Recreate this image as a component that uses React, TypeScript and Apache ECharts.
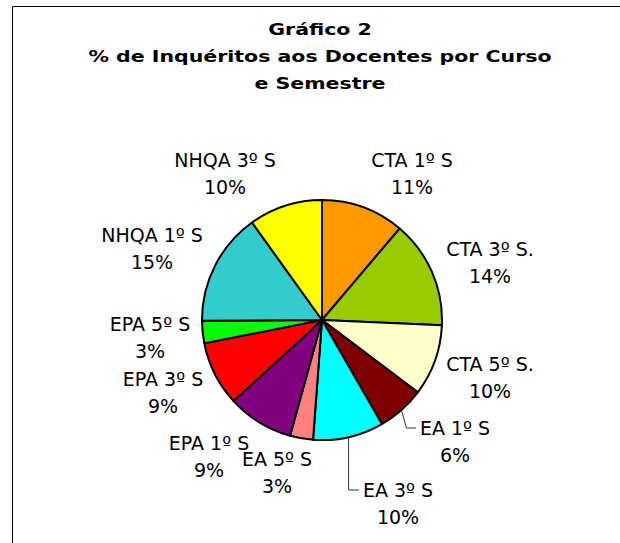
import React, { useEffect, useRef } from "react";
import * as echarts from "echarts";

const categories = [
  "CTA 1º S",
  "CTA 3º S.",
  "CTA 5º S.",
  "EA 1º S",
  "EA 3º S",
  "EA 5º S",
  "EPA 1º S",
  "EPA 3º S",
  "EPA 5º S",
  "NHQA 1º S",
  "NHQA 3º S",
];
const values = [11.2, 14.49, 9.6, 6.4, 9.5, 3.1, 8.9, 8.7, 3.0, 15.2, 9.91];
const colors = [
  "#FF9900",
  "#99CC00",
  "#FFFFCC",
  "#800000",
  "#00FFFF",
  "#FF8080",
  "#800080",
  "#FF0000",
  "#00FF00",
  "#33CCCC",
  "#FFFF00",
];
const titleLines = ["Gráfico 2", "% de Inquéritos aos Docentes por Curso", "e Semestre"];

// label block centres (layout, not data)
const labelPos: [number, number][] = [
  [412, 173],
  [490, 262],
  [490, 377],
  [455, 441],
  [398, 503],
  [277, 472],
  [209, 456],
  [163, 392],
  [150, 337],
  [152, 248],
  [225, 173],
];
const withLeader = [3, 4];

export default function App() {
  const ref = useRef<HTMLDivElement>(null);
  useEffect(() => {
    if (!ref.current) return;
    const chart = echarts.init(ref.current, null, { renderer: "svg" });
    const font = "DejaVu Sans";
    chart.setOption({
      animation: false,
      backgroundColor: "#ffffff",
      graphic: [
        {
          type: "rect",
          shape: { x: 12.5, y: 6.5, width: 800, height: 800 },
          style: { fill: "none", stroke: "#000", lineWidth: 1 },
          silent: true,
        },
        ...titleLines.map((t, i) => ({
          type: "text",
          x: 320,
          y: 29 + i * 27,
          scaleX: 1.14,
          scaleY: 0.9,
          style: {
            text: t,
            textAlign: "center",
            textVerticalAlign: "middle",
            font: `bold 18px "${font}"`,
            fill: "#000",
          },
        })),
      ],
      series: [
        {
          type: "pie",
          center: [322, 320],
          radius: 120,
          startAngle: 90,
          clockwise: true,
          avoidLabelOverlap: false,
          itemStyle: { borderColor: "#000", borderWidth: 2 },
          emphasis: { disabled: true },
          label: {
            show: true,
            position: "outside",
            fontFamily: font,
            fontSize: 19,
            color: "#000",
            lineHeight: 27,
            align: "center",
            formatter: (p: any) => `${p.name}\n${Math.round(p.percent)}%`,
          },
          labelLine: { show: false },
          labelLayout: (p: any) => {
            const i = p.dataIndex;
            const [cx, cy] = labelPos[i];
            const res: any = { x: cx, y: cy, align: "center", verticalAlign: "middle" };
            if (withLeader.includes(i) && p.labelLinePoints) {
              const s = p.labelLinePoints[0];
              const left = cx - p.labelRect.width / 2;
              const ly = cy - 13;
              const elbowX = i === 3 ? s[0] + 5 : s[0];
              res.labelLinePoints = [
                [s[0], s[1]],
                [elbowX, ly],
                [left - 4, ly],
              ];
            }
            return res;
          },
          data: categories.map((name, i) => ({
            name,
            value: values[i],
            itemStyle: { color: colors[i] },
            labelLine: withLeader.includes(i)
              ? { show: true, length: 10, length2: 10, lineStyle: { color: "#333", width: 1 } }
              : { show: false },
          })),
        },
      ],
    });
    return () => chart.dispose();
  }, []);
  return (
    <div
      ref={ref}
      style={{ position: "fixed", left: 0, top: 0, width: 620, height: 543 }}
    />
  );
}
